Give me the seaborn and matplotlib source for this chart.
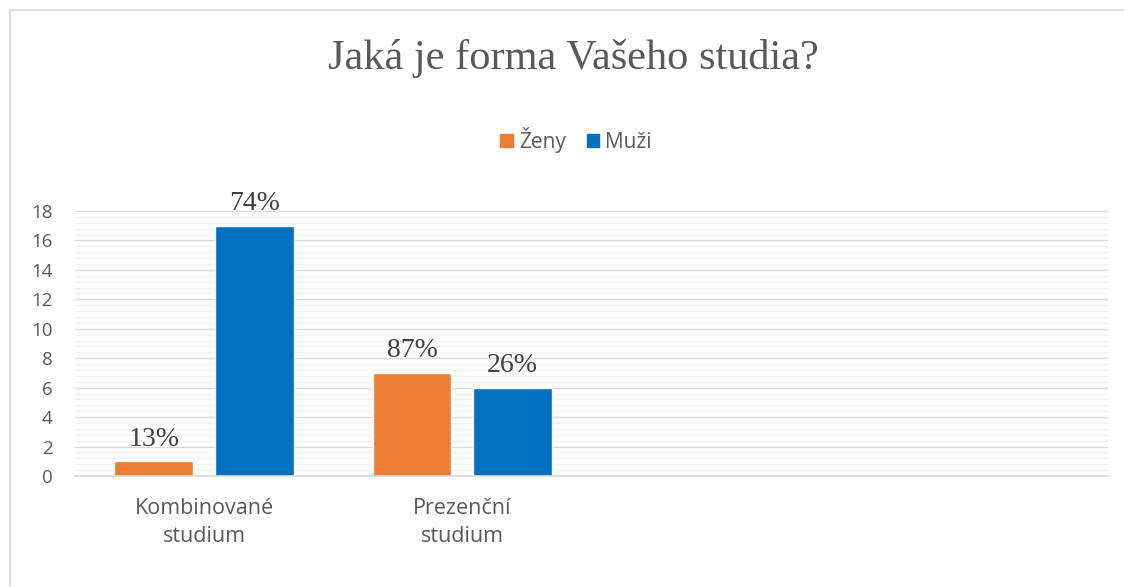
import pandas as pd
import matplotlib.pyplot as plt
import seaborn as sns
from matplotlib.ticker import MultipleLocator
from matplotlib.patches import Rectangle

categories = ["Kombinované\nstudium", "Prezenční\nstudium"]
groups = ["Ženy", "Muži"]
zeny = [1, 7]
muzi = [17, 6]
zeny_pct = ["13%", "87%"]
muzi_pct = ["74%", "26%"]

df = pd.DataFrame({
    "forma": categories * 2,
    "pohlavi": [groups[0]] * 2 + [groups[1]] * 2,
    "pocet": zeny + muzi,
    "pct": zeny_pct + muzi_pct,
})

sns.set_theme(style="white")
plt.rcParams["font.family"] = ["Open Sans", "DejaVu Sans"]

fig = plt.figure(figsize=(11.24, 5.87), dpi=100)
ax = fig.add_axes([75 / 1124, 1 - 476 / 587, 1033 / 1124, 265 / 587])

sns.barplot(data=df, x="forma", y="pocet", hue="pohlavi", hue_order=groups,
            palette=["#ED7D31", "#0070C0"], width=0.78, gap=0.22,
            saturation=1, ax=ax, legend=False)

# data labels
for cont, labels in zip(ax.containers, [zeny_pct, muzi_pct]):
    ax.bar_label(cont, labels=labels, padding=7, fontsize=20,
                 family="Liberation Serif", color="#404040")

ax.set_xlim(-0.5, 3.5)
ax.set_ylim(0, 18)
ax.yaxis.set_major_locator(MultipleLocator(2))
ax.yaxis.set_minor_locator(MultipleLocator(0.4))
ax.grid(axis="y", which="major", color="#D9D9D9", linewidth=1)
ax.grid(axis="y", which="minor", color="#F0F0F0", linewidth=1)
ax.set_axisbelow(True)
for s in ["top", "right", "left"]:
    ax.spines[s].set_visible(False)
ax.spines["bottom"].set_color("#D9D9D9")
ax.tick_params(axis="both", which="both", length=0, labelsize=13.5,
               labelcolor="#595959")
ax.tick_params(axis="y", pad=16)
ax.tick_params(axis="x", pad=16, labelsize=15.5)
for lbl in ax.get_xticklabels():
    lbl.set_linespacing(1.4)
ax.set_xlabel("")
ax.set_ylabel("")

# legend
handles = [Rectangle((0, 0), 1, 1, color=c) for c in ["#ED7D31", "#0070C0"]]
fig.legend(handles, groups, loc="center", bbox_to_anchor=(576 / 1124, 1 - 140 / 587),
           ncol=2, frameon=False, fontsize=15, handlelength=0.6,
           handleheight=0.6, handletextpad=0.3, columnspacing=1.0,
           labelcolor="#595959")

fig.text(573 / 1124, 1 - 58 / 587, "Jaká je forma Vašeho studia?",
         ha="center", va="center", fontsize=30.5, family="Liberation Serif",
         color="#595959")

# chart border
fig.patches.append(Rectangle((10 / 1124, -0.1), 1.2, 1 - 10 / 587 + 0.1,
                             transform=fig.transFigure, fill=False,
                             edgecolor="#D9D9D9", linewidth=1.2))

fig.savefig("out.png", dpi=100)
